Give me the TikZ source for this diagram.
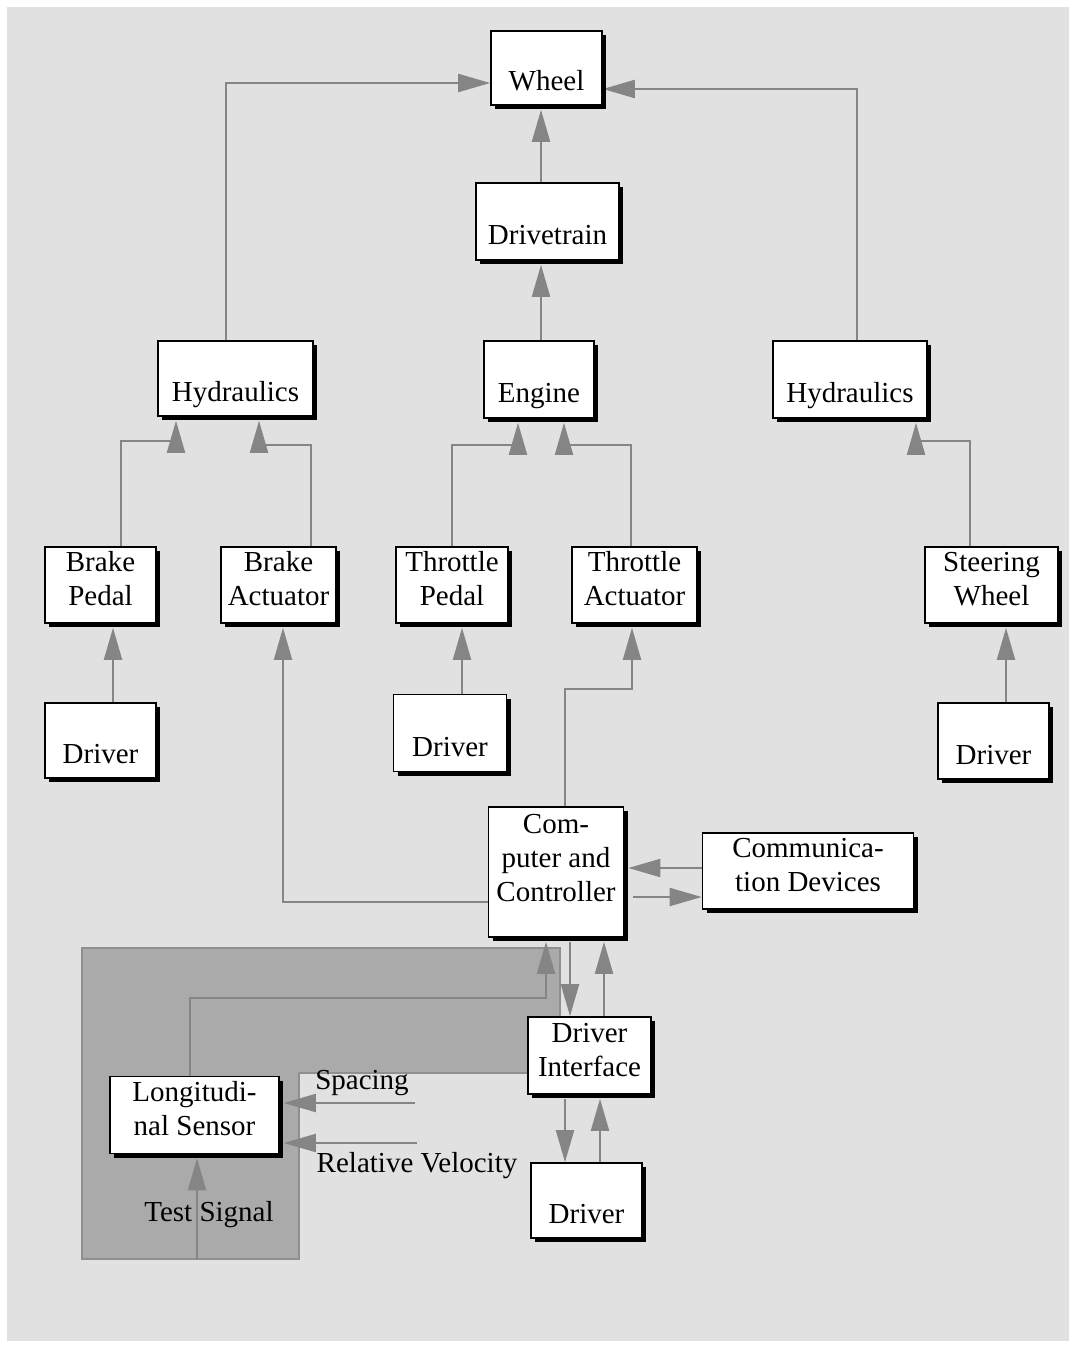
\documentclass[tikz,border=0pt]{standalone}
\usepackage{fontspec}
\setmainfont{Liberation Serif}
\usetikzlibrary{arrows.meta,shadows}
\pgfdeclarelayer{ground}
\pgfdeclarelayer{links}
\pgfsetlayers{ground,links,main}
\definecolor{paper}{HTML}{E1E1E1}
\definecolor{wire}{HTML}{858585}
\definecolor{zone}{HTML}{AAAAAA}
\definecolor{zoneline}{HTML}{8F8F8F}
\tikzset{
  blk/.style={draw=black, line width=1.6pt, fill=white, align=center, inner sep=2pt,
    font=\fontsize{29}{34}\selectfont, text depth=0pt,
    drop shadow={shadow xshift=4pt, shadow yshift=-4pt, fill=black, opacity=1}},
  one/.style={text height=46pt},
  two/.style={text height=41pt},
  link/.style={draw=wire, line width=2pt, -{Triangle[length=32pt,width=18pt]}, wire},
  shd/.style={shorten >=4pt},
  txt/.style={font=\fontsize{29}{34}\selectfont, inner sep=0pt}
}
\begin{document}
\begin{tikzpicture}[x=1pt,y=-1pt]
\useasboundingbox (0,0) rectangle (1075,1348);
% page, backdrop and shaded sensor zone
\begin{pgfonlayer}{ground}
  \fill[white] (0,0) rectangle (1075,1348);
  \fill[paper] (7,7) rectangle (1069,1341);
  \draw[zoneline, fill=zone, line width=1.5pt]
    (82,948) -- (560,948) -- (560,1073) -- (299,1073) -- (299,1259) -- (82,1259) -- cycle;
\end{pgfonlayer}

% blocks
\node[blk, one, minimum width=111pt, minimum height=74pt] (wheel) at (546.5,68) {Wheel};
\node[blk, one, minimum width=143pt, minimum height=77pt] (drive) at (547.5,221.5) {Drivetrain};
\node[blk, one, minimum width=155pt, minimum height=75pt] (hydL) at (235.5,378.5) {Hydraulics};
\node[blk, one, minimum width=110pt, minimum height=77pt] (engine) at (539,379.5) {Engine};
\node[blk, one, minimum width=154pt, minimum height=77pt] (hydR) at (850,379.5) {Hydraulics};

\node[blk, two, minimum width=111pt, minimum height=76pt] (bpedal) at (100.5,585) {Brake\\Pedal};
\node[blk, two, minimum width=115pt, minimum height=76pt] (bact) at (278.5,585) {Brake\\Actuator};
\node[blk, two, minimum width=112pt, minimum height=76pt] (tpedal) at (452,585) {Throttle\\Pedal};
\node[blk, two, minimum width=125pt, minimum height=76pt] (tact) at (634.5,585) {Throttle\\Actuator};
\node[blk, two, minimum width=133pt, minimum height=76pt] (steer) at (991.5,585) {Steering\\Wheel};

\node[blk, one, minimum width=111pt, minimum height=75pt] (drvL) at (100.5,740.5) {Driver};
\node[blk, one, minimum width=113pt, minimum height=77pt] (drvM) at (450,733) {Driver};
\node[blk, one, minimum width=111pt, minimum height=76pt] (drvR) at (993.5,741) {Driver};

\node[blk, text height=59pt, minimum width=135pt, minimum height=130pt] (comp) at (556,872) {Com-\\puter and\\Controller};
\node[blk, two, minimum width=211pt, minimum height=76pt] (comm) at (808,871) {Communica-\\tion Devices};
\node[blk, two, minimum width=123pt, minimum height=77pt] (di) at (589.5,1055.5) {Driver\\Interface};
\node[blk, two, minimum width=169pt, minimum height=77pt] (lsens) at (194.5,1115) {Longitudi-\\nal Sensor};
\node[blk, one, minimum width=111pt, minimum height=75pt] (drvB) at (586.5,1200.5) {Driver};

% free labels and free ends
\node[txt] (lspacing) at (362,1083) {Spacing};
\node[txt] (lrelvel) at (417,1166) {Relative Velocity};
\node[txt] (ltest) at (209,1215) {Test Signal};
\coordinate (spin) at (415,1103);
\coordinate (rvin) at (417,1143);
\coordinate (tsin) at (197,1259);

\begin{pgfonlayer}{links}
  % into the wheel
  \draw[link] (hydL.north -| 226,0) |- (wheel.west |- 0,83);
  \draw[link, shd] (drive.north -| 541,0) -- (wheel.south -| 541,0);
  \draw[link] (hydR.north -| 857,0) |- (wheel.east |- 0,89);
  \draw[link, shd] (engine.north -| 541,0) -- (drive.south -| 541,0);
  % pedals and actuators
  \draw[link, shd] (bpedal.north -| 121,0) -- (121,441) -| (hydL.south -| 176,0);
  \draw[link, shd] (bact.north -| 311,0) -- (311,445) -| (hydL.south -| 259,0);
  \draw[link, shd] (tpedal.north -| 452,0) -- (452,445) -| (engine.south -| 518,0);
  \draw[link, shd] (tact.north -| 631,0) -- (631,445) -| (engine.south -| 564,0);
  \draw[link, shd] (steer.north -| 970,0) -- (970,441) -| (hydR.south -| 916,0);
  % drivers
  \draw[link, shd] (drvL.north -| 113,0) -- (bpedal.south -| 113,0);
  \draw[link, shd] (drvM.north -| 462,0) -- (tpedal.south -| 462,0);
  \draw[link, shd] (drvR.north -| 1006,0) -- (steer.south -| 1006,0);
  % controller outputs
  \draw[link, shd] (comp.north -| 565,0) -- (565,689) -| (tact.south -| 632,0);
  \draw[link, shd] (comp.west |- 0,902) -| (bact.south -| 283,0);
  \draw[link, shd] (comm.west |- 0,868) -- (comp.east |- 0,868);
  \draw[link, shorten <=9pt] (comp.east |- 0,897) -- (comm.west |- 0,897);
  % driver interface and sensor
  \draw[link, shd] (lsens.north -| 190,0) -- (190,998) -| (comp.south -| 546,0);
  \draw[link, shorten <=4pt] (comp.south -| 570,0) -- (di.north -| 570,0);
  \draw[link, shd] (di.north -| 604,0) -- (comp.south -| 604,0);
  \draw[link, shorten <=4pt] (di.south -| 565,0) -- (drvB.north -| 565,0);
  \draw[link, shd] (drvB.north -| 600,0) -- (di.south -| 600,0);
  \draw[link, shd] (spin) -- (lsens.east |- spin);
  \draw[link, shd] (rvin) -- (lsens.east |- rvin);
  \draw[link, shd] (tsin) -- (lsens.south -| tsin);
\end{pgfonlayer}
\end{tikzpicture}
\end{document}
